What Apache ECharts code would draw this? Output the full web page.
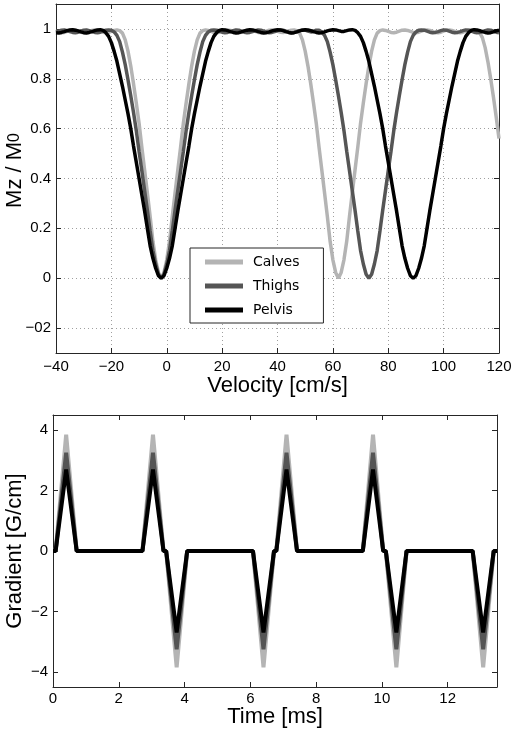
<!DOCTYPE html>
<html>
<head>
<meta charset="utf-8">
<script src="https://cdn.jsdelivr.net/npm/echarts@6/dist/echarts.min.js"></script>
<style>
html,body{margin:0;padding:0;background:#fff;}
#chart{width:516px;height:733px;}
</style>
</head>
<body>
<div id="chart"></div>
<script>
// ---------- Top panel data: Mz/M0 vs velocity ----------
const velocity = [
-40,-39,-38,-37,-36,-35,-34,-33,-32,-31,-30,-29,-28,-27,-26,-25,-24,-23,-22,-21,
-20,-19,-18,-17,-16,-15,-14,-13,-12,-11,-10,-9,-8,-7,-6,-5,-4,-3,-2,-1,
0,1,2,3,4,5,6,7,8,9,10,11,12,13,14,15,16,17,18,19,
20,21,22,23,24,25,26,27,28,29,30,31,32,33,34,35,36,37,38,39,
40,41,42,43,44,45,46,47,48,49,50,51,52,53,54,55,56,57,58,59,
60,61,62,63,64,65,66,67,68,69,70,71,72,73,74,75,76,77,78,79,
80,81,82,83,84,85,86,87,88,89,90,91,92,93,94,95,96,97,98,99,
100,101,102,103,104,105,106,107,108,109,110,111,112,113,114,115,116,117,118,119,120
];
const calves = [
0.991,0.987,0.985,0.986,0.99,0.994,0.996,0.995,0.991,0.987,0.985,0.986,0.99,0.994,0.996,0.995,0.991,0.987,0.985,0.986,0.99,0.994,0.996,
0.993,0.983,0.956,0.911,0.851,0.78,0.703,0.622,0.526,0.434,0.342,0.248,0.148,0.074,0.023,0,0.023,0.074,0.148,0.248,0.342,0.434,0.526,0.622,0.703,0.78,0.851,0.911,0.956,0.983,0.993,
0.996,0.994,0.99,0.986,0.985,0.987,0.991,0.995,0.996,0.994,0.99,0.986,0.985,0.987,0.991,0.995,0.996,0.994,0.99,0.986,0.985,0.987,0.991,0.995,0.996,0.994,0.99,0.987,0.986,0.988,0.992,0.995,0.996,
0.993,0.983,0.956,0.911,0.851,0.78,0.703,0.622,0.526,0.434,0.342,0.248,0.148,0.074,0.023,0,0.023,0.074,0.148,0.248,0.342,0.434,0.526,0.622,0.703,0.78,0.851,0.911,0.956,0.983,0.993,
0.996,0.994,0.99,0.986,0.985,0.987,0.991,0.995,0.996,0.994,0.99,0.986,0.985,0.987,0.991,0.995,0.996,0.994,0.99,0.986,0.985,0.987,0.991,0.995,0.996,0.994,0.99,0.986,0.985,0.987,0.991,0.995,0.996,0.996,
0.993,0.985,0.965,0.925,0.868,0.80,0.726,0.646,0.56
];
const thighs = [
0.987,0.991,0.995,0.996,0.993,0.989,0.986,0.985,0.987,0.991,0.995,0.996,0.993,0.989,0.986,0.985,0.987,0.991,0.995,0.996,
0.995,0.988,0.974,0.949,0.907,0.857,0.796,0.732,0.665,0.592,0.509,0.431,0.352,0.273,0.189,0.111,0.057,0.016,0,0.016,0.057,0.111,0.189,0.273,0.352,0.431,0.509,0.592,0.665,0.732,0.796,0.857,0.907,0.949,0.974,0.988,0.995,
0.996,0.995,0.991,0.987,0.985,0.986,0.989,0.993,0.996,0.995,0.991,0.987,0.985,0.986,0.989,0.993,0.996,0.995,0.991,0.987,0.985,0.986,0.989,0.993,0.996,0.995,0.991,0.987,0.985,0.986,0.989,0.993,0.996,0.995,0.991,0.988,0.99,0.995,
0.995,0.988,0.974,0.949,0.907,0.857,0.796,0.732,0.665,0.592,0.509,0.431,0.352,0.273,0.189,0.111,0.057,0.016,0,0.016,0.057,0.111,0.189,0.273,0.352,0.431,0.509,0.592,0.665,0.732,0.796,0.857,0.907,0.949,0.974,0.988,0.995,
0.996,0.995,0.991,0.987,0.985,0.986,0.989,0.993,0.996,0.995,0.991,0.987,0.985,0.986,0.989,0.993,0.996,0.995,0.991,0.987,0.985,0.986,0.989,0.993,0.996,0.995,0.991,0.987,0.985
];
const pelvis = [
0.985,0.984,0.986,0.989,0.993,0.996,0.997,0.995,0.992,0.988,0.985,0.984,0.986,0.989,0.993,0.996,0.997,
0.994,0.985,0.97,0.945,0.91,0.87,0.82,0.77,0.715,0.66,0.60,0.53,0.465,0.40,0.335,0.27,0.20,0.13,0.08,0.04,0.01,0,0.01,0.04,0.08,0.13,0.20,0.27,0.335,0.40,0.465,0.53,0.60,0.66,0.715,0.77,0.82,0.87,0.91,0.945,0.97,0.985,0.994,
0.997,0.996,0.993,0.989,0.986,0.984,0.985,0.988,0.992,0.995,0.997,0.996,0.993,0.989,0.986,0.984,0.985,0.988,0.992,0.995,0.997,0.996,0.993,0.989,0.986,0.984,0.985,0.988,0.992,0.995,0.997,0.996,0.993,0.989,0.986,0.984,0.985,0.988,0.992,0.995,0.997,0.996,0.993,0.99,0.99,0.993,0.996,0.997,
0.994,0.985,0.97,0.945,0.91,0.87,0.82,0.77,0.715,0.66,0.60,0.53,0.465,0.40,0.335,0.27,0.20,0.13,0.08,0.04,0.01,0,0.01,0.04,0.08,0.13,0.20,0.27,0.335,0.40,0.465,0.53,0.60,0.66,0.715,0.77,0.82,0.87,0.91,0.945,0.97,0.985,0.994,
0.997,0.996,0.993,0.989,0.986,0.984,0.985,0.988,0.992,0.995
];
const seriesNames = ['Calves','Thighs','Pelvis'];
const mzTickValues = [-0.2,0,0.2,0.4,0.6,0.8,1];
const mzTickLabels = ['\u221202','0','0.2','0.4','0.6','0.8','1'];

// ---------- Bottom panel data: gradient vs time ----------
const gradTime = [0,0.08,0.40,0.72,2.72,3.04,3.36,3.44,3.76,4.08,6.08,6.40,6.72,6.79,7.10,7.42,9.42,9.73,10.04,10.12,10.44,10.75,12.76,13.08,13.40,13.5];
const calvesGrad = [0,0,3.85,0,0,3.85,0,0,-3.85,0,0,-3.85,0,0,3.85,0,0,3.85,0,0,-3.85,0,0,-3.85,0,0];
const thighsGrad = [0,0,3.25,0,0,3.25,0,0,-3.25,0,0,-3.25,0,0,3.25,0,0,3.25,0,0,-3.25,0,0,-3.25,0,0];
const pelvisGrad = [0,0,2.7,0,0,2.7,0,0,-2.7,0,0,-2.7,0,0,2.7,0,0,2.7,0,0,-2.7,0,0,-2.7,0,0];
const gradTickValues = [-4,-2,0,2,4];

const colors = ['#b4b4b4','#555555','#000000'];
const FONT = 'Liberation Sans';
const AX = '#262626';

function fmtNum(v){ return v < 0 ? '\u2212' + (-v) : String(v); }
function fmtMz(v){
  for (let i=0;i<mzTickValues.length;i++){ if (Math.abs(mzTickValues[i]-v) < 1e-9) return mzTickLabels[i]; }
  return '';
}
function pairs(xs, ys){ return xs.map((x,i)=>[x, ys[i]]); }

const chart = echarts.init(document.getElementById('chart'), null, {renderer:'canvas'});

const lbl = {color:'#000', fontSize:15, fontFamily:FONT};
const nameStyle = {color:'#000', fontSize:22, fontFamily:FONT};
const tick = {inside:true, length:5, lineStyle:{color:AX, width:1}};
const line = {show:true, onZero:false, lineStyle:{color:AX, width:1}};
const grid = {show:true, lineStyle:{color:'#a0a0a0', width:1, type:[1,3]}};

const option = {
  animation:false,
  backgroundColor:'#fff',
  legend:{
    data: seriesNames,
    orient:'vertical',
    left:190, top:248,
    padding:[7,24,6,15],
    itemGap:10,
    itemWidth:38, itemHeight:5,
    icon:'rect',
    borderColor:AX, borderWidth:1,
    backgroundColor:'#fff',
    textStyle:{fontFamily:'DejaVu Sans', fontSize:14, color:'#000', padding:[0,0,0,5]}
  },
  grid:[
    {left:56, top:4, width:443, height:349, containLabel:false, outerBoundsMode:'none'},
    {left:53, top:415, width:444, height:272, containLabel:false, outerBoundsMode:'none'}
  ],
  xAxis:[
    {gridIndex:0, type:'value', min:-40, max:120, interval:20, position:'bottom',
     axisLine:line, axisTick:tick, splitLine:grid,
     axisLabel:{...lbl, margin:6, formatter:fmtNum},
     name:'Velocity [cm/s]', nameLocation:'middle', nameGap:22, nameMoveOverlap:false, nameTextStyle:nameStyle},
    {gridIndex:0, type:'value', min:-40, max:120, interval:20, position:'top',
     axisLine:line, axisTick:tick, splitLine:{show:false}, axisLabel:{show:false}},
    {gridIndex:1, type:'value', min:0, max:13.5, interval:2, position:'bottom',
     axisLine:line, axisTick:tick, splitLine:{show:false},
     axisLabel:{...lbl, margin:4, formatter:fmtNum, showMaxLabel:false},
     name:'Time [ms]', nameLocation:'middle', nameGap:19, nameMoveOverlap:false, nameTextStyle:nameStyle},
    {gridIndex:1, type:'value', min:0, max:13.5, interval:2, position:'top',
     axisLine:line, axisTick:tick, splitLine:{show:false}, axisLabel:{show:false}}
  ],
  yAxis:[
    {gridIndex:0, type:'value', min:-0.3, max:1.1, position:'left',
     axisLine:line, axisTick:{...tick, customValues:mzTickValues}, splitLine:grid,
     axisLabel:{...lbl, margin:5, customValues:mzTickValues, formatter:fmtMz},
     name:'Mz / M{s|0}', nameLocation:'middle', nameGap:30, nameRotate:90, nameMoveOverlap:false,
     nameTextStyle:{...nameStyle, padding:[0,0,0,16], rich:{s:{fontSize:16, fontFamily:FONT, color:'#000'}}}},
    {gridIndex:0, type:'value', min:-0.3, max:1.1, position:'right',
     axisLine:line, axisTick:{...tick, customValues:mzTickValues}, splitLine:{show:false}, axisLabel:{show:false}},
    {gridIndex:1, type:'value', min:-4.5, max:4.5, position:'left',
     axisLine:line, axisTick:{...tick, customValues:gradTickValues}, splitLine:{show:false},
     axisLabel:{...lbl, margin:5, customValues:gradTickValues, formatter:fmtNum},
     name:'Gradient [G/cm]', nameLocation:'middle', nameGap:27, nameRotate:90, nameMoveOverlap:false, nameTextStyle:nameStyle},
    {gridIndex:1, type:'value', min:-4.5, max:4.5, position:'right',
     axisLine:line, axisTick:{...tick, customValues:gradTickValues}, splitLine:{show:false}, axisLabel:{show:false}}
  ],
  series:[
    {name:'Calves', type:'line', xAxisIndex:0, yAxisIndex:0, data:pairs(velocity, calves), showSymbol:false, symbol:'none', color:colors[0], lineStyle:{width:3.5, color:colors[0]}},
    {name:'Thighs', type:'line', xAxisIndex:0, yAxisIndex:0, data:pairs(velocity, thighs), showSymbol:false, symbol:'none', color:colors[1], lineStyle:{width:3.5, color:colors[1]}},
    {name:'Pelvis', type:'line', xAxisIndex:0, yAxisIndex:0, data:pairs(velocity, pelvis), showSymbol:false, symbol:'none', color:colors[2], lineStyle:{width:3.5, color:colors[2]}},
    {name:'Calves gradient', type:'line', xAxisIndex:2, yAxisIndex:2, data:pairs(gradTime, calvesGrad), showSymbol:false, symbol:'none', color:colors[0], lineStyle:{width:4, color:colors[0]}},
    {name:'Thighs gradient', type:'line', xAxisIndex:2, yAxisIndex:2, data:pairs(gradTime, thighsGrad), showSymbol:false, symbol:'none', color:colors[1], lineStyle:{width:4, color:colors[1]}},
    {name:'Pelvis gradient', type:'line', xAxisIndex:2, yAxisIndex:2, data:pairs(gradTime, pelvisGrad), showSymbol:false, symbol:'none', color:colors[2], lineStyle:{width:4, color:colors[2]}}
  ]
};
chart.setOption(option);
</script>
</body>
</html>
